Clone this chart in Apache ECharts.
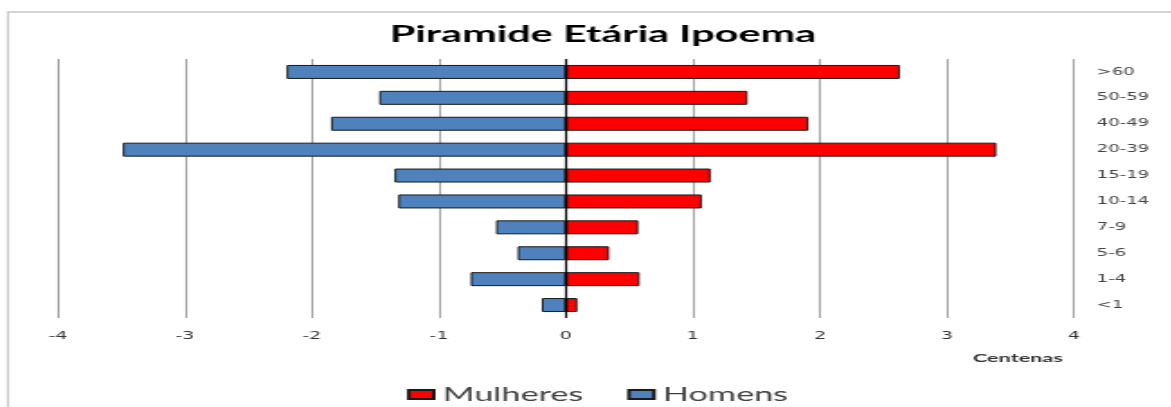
<!DOCTYPE html>
<html>
<head>
<meta charset="utf-8">
<script src="https://cdn.jsdelivr.net/npm/echarts@6/dist/echarts.min.js"></script>
<style>
  html, body { margin: 0; padding: 0; background: #fff; overflow: hidden; }
  #chart { height: 407px; transform-origin: 0 0; }
</style>
</head>
<body>
<div id="chart"></div>
<script>
// faixas etarias, de baixo para cima
var faixas = ['<1', '1-4', '5-6', '7-9', '10-14', '15-19', '20-39', '40-49', '50-59', '>60'];
// valores em centenas
var mulheres = [0.09, 0.58, 0.34, 0.57, 1.07, 1.14, 3.39, 1.91, 1.43, 2.63];
var homens = [-0.19, -0.75, -0.38, -0.55, -1.32, -1.35, -3.49, -1.85, -1.47, -2.20];
var ticksX = [-4, 4, 1];

// o grafico original vem esticado na horizontal, entao desenha estreito e estica
var esticar = 1.8;
var el = document.getElementById('chart');
el.style.width = (1171 / esticar) + 'px';
el.style.transform = 'scaleX(' + esticar + ')';
function px(x) { return x / esticar; }

var myChart = echarts.init(el);
myChart.setOption({
  animation: false,
  title: {
    text: 'Piramide Etária Ipoema',
    left: px(594),
    textAlign: 'center',
    top: 18,
    textStyle: { fontFamily: 'Lato', fontWeight: 'bold', fontSize: 23, color: '#000' }
  },
  legend: {
    data: ['Mulheres', 'Homens'],
    top: 385,
    left: px(407),
    padding: 0,
    itemWidth: px(25),
    itemHeight: 9,
    itemGap: px(44),
    icon: 'rect',
    textStyle: { fontFamily: 'Lato', fontSize: 19, color: '#404040' }
  },
  graphic: [
    {
      type: 'rect',
      shape: { x: px(8), y: 12, width: 1200, height: 420 },
      style: { fill: 'none', stroke: '#c8c8c8', lineWidth: 1.3 },
      silent: true
    },
    {
      type: 'text',
      left: px(973),
      top: 352,
      style: { text: 'Centenas', font: 'bold 12px Lato', fill: '#333' }
    }
  ],
  grid: { left: px(58), right: px(1171 - 1073), top: 59, bottom: 89 },
  xAxis: {
    type: 'value',
    min: ticksX[0],
    max: ticksX[1],
    interval: ticksX[2],
    axisLine: { show: false },
    axisTick: { show: false },
    axisLabel: { margin: 13, fontSize: 10.5, color: '#333', fontFamily: 'DejaVu Sans' },
    splitLine: { lineStyle: { color: '#a0a0a0', width: 1.1 } }
  },
  yAxis: {
    type: 'category',
    data: faixas,
    position: 'right',
    axisLine: { show: false },
    axisTick: { show: false },
    axisLabel: { margin: px(23), fontSize: 10, color: '#444', fontFamily: 'DejaVu Sans', align: 'left' }
  },
  series: [
    {
      name: 'Mulheres',
      type: 'bar',
      data: mulheres,
      barWidth: '54%',
      barGap: '-100%',
      itemStyle: { color: '#ff0000', borderColor: '#1a1a1a', borderWidth: 1 },
      markLine: {
        silent: true,
        symbol: 'none',
        label: { show: false },
        lineStyle: { color: '#000', type: 'solid', width: 1.2 },
        data: [{ xAxis: 0 }]
      }
    },
    {
      name: 'Homens',
      type: 'bar',
      data: homens,
      barWidth: '54%',
      itemStyle: { color: '#4f81bd', borderColor: '#1a1a1a', borderWidth: 1 }
    }
  ]
});
</script>
</body>
</html>
